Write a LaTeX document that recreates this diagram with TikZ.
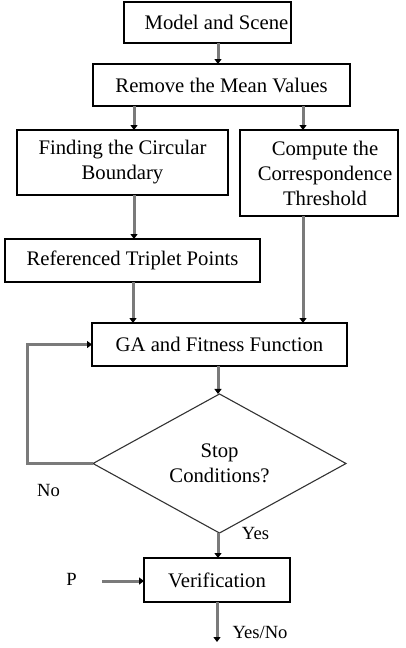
\documentclass[tikz,border=0pt]{standalone}
\usepackage{fontspec}
\setmainfont{Liberation Serif}
\usetikzlibrary{arrows.meta,shapes.geometric}
\begin{document}
\begin{tikzpicture}[x=1pt,y=-1pt,
  box/.style={draw=black,line width=1.8pt,rectangle,inner sep=0pt,outer sep=0pt,align=center,
    font=\fontsize{20.7}{25}\selectfont},
  decision/.style={draw=black!80,line width=1.1pt,diamond,inner sep=0pt,outer sep=0pt,align=center,
    font=\fontsize{20.7}{25}\selectfont},
  conn/.style={draw=black!52,line width=3pt,-{Triangle[length=5pt,width=7pt,color=black]}},
  lbl/.style={inner sep=0pt,font=\fontsize{18.6}{22}\selectfont}]
\useasboundingbox[fill=white] (0,0) rectangle (405,648);

\node[box,minimum width=167,minimum height=41] (model) at (207.5,22.5) {\hspace*{18pt}Model and Scene};
\node[box,minimum width=257,minimum height=42] (remove) at (221.5,85) {Remove the Mean Values};
\node[box,minimum width=211,minimum height=65] (find) at (122.5,162.5) {Finding the Circular\\Boundary};
\node[box,minimum width=158,minimum height=86] (comp) at (319,173) {\hspace*{12pt}Compute the\\\hspace*{12pt}Correspondence\\\hspace*{12pt}Threshold};
\node[box,minimum width=255,minimum height=43] (ref) at (132.5,260.5) {Referenced Triplet Points};
\node[box,minimum width=255,minimum height=43] (ga) at (219.5,344.5) {GA and Fitness Function};
\node[decision,minimum width=253,minimum height=105] (dia) at (219.5,463.5) {Stop\\Conditions?};
\node[box,minimum width=146,minimum height=44] (verif) at (217,580) {Verification};

\node[lbl] (no) at (48.5,490) {No};
\node[lbl] (yes) at (255.5,533) {Yes};
\node[lbl] (yesno) at (260,632) {Yes/No};
\node[lbl] (p) at (71.5,579) {P};
\coordinate (pin) at (102,581);
\coordinate (out) at (217,642);

\draw[conn] (218,0 |- model.south) -- (218,0 |- remove.north);
\draw[conn] (134,0 |- remove.south) -- (134,0 |- find.north);
\draw[conn] (303,0 |- remove.south) -- (303,0 |- comp.north);
\draw[conn] (134,0 |- find.south) -- (134,0 |- ref.north);
\draw[conn] (133,0 |- ref.south) -- (133,0 |- ga.north);
\draw[conn] (303,0 |- comp.south) -- (303,0 |- ga.north);
\draw[conn] (218,0 |- ga.south) -- (218,0 |- dia.north);
\draw[conn] (dia.west) -- (27,0 |- dia.west) |- (ga.west);
\draw[conn] (218,0 |- dia.south) -- (218,0 |- verif.north);
\draw[conn] (pin) -- (pin -| verif.west);
\draw[conn] (verif.south -| out) -- (out);
\end{tikzpicture}
\end{document}
